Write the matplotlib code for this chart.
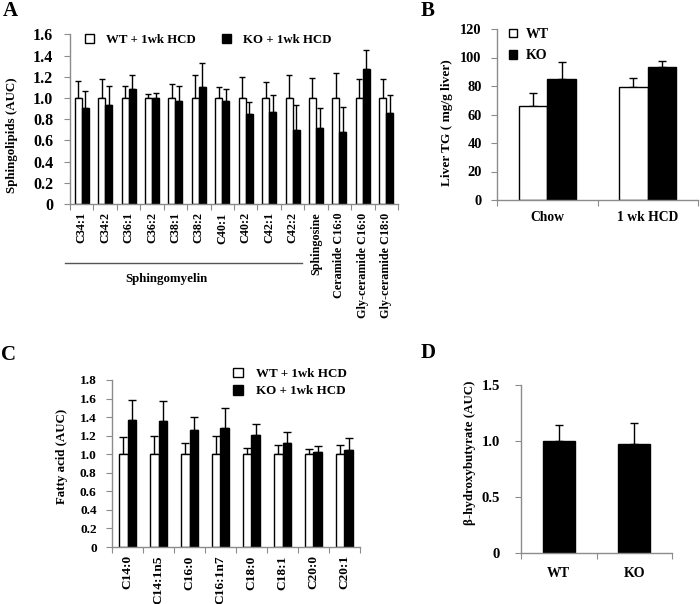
import numpy as np
import matplotlib
matplotlib.use("Agg")
import matplotlib.pyplot as plt

plt.rcParams['font.family'] = 'serif'
plt.rcParams['font.serif'] = ['Liberation Serif', 'DejaVu Serif']
plt.rcParams['font.weight'] = 'bold'

# panel A - sphingolipids
sphingo_labels = ['C34:1', 'C34:2', 'C36:1', 'C36:2', 'C38:1', 'C38:2', 'C40:1',
                  'C40:2', 'C42:1', 'C42:2', 'Sphingosine', 'Ceramide C16:0',
                  'Gly-ceramide C16:0', 'Gly-ceramide C18:0']
sphingo_wt = [1.0] * 14
sphingo_wt_err = [0.164, 0.18, 0.11, 0.038, 0.133, 0.215, 0.107, 0.196, 0.151,
                  0.215, 0.186, 0.233, 0.176, 0.18]
sphingo_ko = [0.905, 0.937, 1.085, 0.997, 0.968, 1.104, 0.972, 0.849, 0.868,
              0.70, 0.716, 0.676, 1.27, 0.855]
sphingo_ko_err = [0.158, 0.18, 0.133, 0.05, 0.142, 0.227, 0.11, 0.116, 0.157,
                  0.23, 0.189, 0.242, 0.18, 0.173]

# panel B - liver TG
tg_groups = ['Chow', '1 wk HCD']
tg_wt = [66.2, 79.5]
tg_wt_err = [8.7, 5.9]
tg_ko = [85.1, 93.5]
tg_ko_err = [11.5, 4.0]

# panel C - fatty acids
fa_labels = ['C14:0', 'C14:1n5', 'C16:0', 'C16:1n7', 'C18:0', 'C18:1', 'C20:0', 'C20:1']
fa_wt = [1.0] * 8
fa_wt_err = [0.19, 0.20, 0.118, 0.193, 0.071, 0.096, 0.054, 0.104]
fa_ko = [1.368, 1.354, 1.257, 1.282, 1.211, 1.125, 1.021, 1.046]
fa_ko_err = [0.214, 0.221, 0.139, 0.214, 0.114, 0.114, 0.068, 0.129]

# panel D - beta-hydroxybutyrate
bhb_groups = ['WT', 'KO']
bhb_vals = [1.0, 0.976]
bhb_err = [0.142, 0.182]

W, H = 700, 604
fig = plt.figure(figsize=(7, 6.04), dpi=100)


def px_axes(left, right, bottom, top):
    return fig.add_axes([left / W, 1 - bottom / H, (right - left) / W, (bottom - top) / H])


def style(ax, n, ylim, yticks, yticklabels, ysize, xlabels, xsize, rot, ypad, xpad):
    ax.set_xlim(-0.5, n - 0.5)
    ax.set_ylim(*ylim)
    for s in ['top', 'right']:
        ax.spines[s].set_visible(False)
    for s in ['left', 'bottom']:
        ax.spines[s].set_color('#8c8c8c')
        ax.spines[s].set_linewidth(1)
    ax.set_yticks(yticks)
    ax.set_yticklabels(yticklabels, fontsize=ysize, fontweight='bold')
    ax.tick_params(axis='y', length=4, color='#8c8c8c', pad=ypad)
    ax.set_xticks(np.arange(n + 1) - 0.5)
    ax.set_xticklabels([])
    ax.tick_params(axis='x', which='major', length=4, color='#8c8c8c')
    ax.set_xticks(np.arange(n), minor=True)
    ax.set_xticklabels(xlabels, minor=True, fontsize=xsize, fontweight='bold', rotation=rot,
                       va='top', ha='center')
    ax.tick_params(axis='x', which='minor', length=0, pad=xpad)


def pair_bars(ax, wt, wt_err, ko, ko_err, width, cap):
    x = np.arange(len(wt))
    b1 = ax.bar(x - width / 2, wt, width, color='white', edgecolor='black', linewidth=1, zorder=2)
    b2 = ax.bar(x + width / 2, ko, width, color='black', edgecolor='black', linewidth=1, zorder=2)
    ax.errorbar(x - width / 2, wt, yerr=[np.zeros(len(wt)), wt_err], fmt='none',
                ecolor='black', elinewidth=1, capsize=cap, capthick=1, zorder=1)
    ax.errorbar(x + width / 2, ko, yerr=[np.zeros(len(ko)), ko_err], fmt='none',
                ecolor='black', elinewidth=1, capsize=cap, capthick=1, zorder=1)
    return b1, b2


# ---- A
axA = px_axes(70, 398, 204, 34.4)
bA = pair_bars(axA, sphingo_wt, sphingo_wt_err, sphingo_ko, sphingo_ko_err, 0.3, 2.5)
style(axA, 14, (0, 1.6), np.arange(0, 1.61, 0.2),
      ['0'] + ['%.1f' % v for v in np.arange(0.2, 1.61, 0.2)], 11.5,
      sphingo_labels, 8.7, 90, 8, 6)
axA.legend(bA, ['WT + 1wk HCD', 'KO + 1wk HCD'], ncol=2, frameon=False,
           loc='center left', bbox_to_anchor=(0.025, 0.967), borderpad=0,
           handlelength=0.75, handleheight=0.75, handletextpad=0.9, columnspacing=2.0,
           prop={'size': 9.3, 'weight': 'bold'})
axA.plot([-0.7, 9.4], [-0.348, -0.348], color='#555555', lw=1,
         transform=axA.get_xaxis_transform(), clip_on=False)
axA.text(3.6, -0.44, 'Sphingomyelin', transform=axA.get_xaxis_transform(),
         ha='center', va='center', fontsize=9.3, fontweight='bold')
fig.text(12.5 / W, 1 - 135 / H, 'Sphingolipids (AUC)', rotation=90, ha='center', va='center',
         fontsize=9.4, fontweight='bold')

# ---- B
axB = px_axes(497, 698, 200, 29)
bB = pair_bars(axB, tg_wt, tg_wt_err, tg_ko, tg_ko_err, 0.285, 3)
style(axB, 2, (0, 120), np.arange(0, 121, 20), [str(v) for v in range(0, 121, 20)], 10.4,
      tg_groups, 9.8, 0, 7, 8)
axB.legend(bB, ['WT', 'KO'], frameon=False, loc='center left', bbox_to_anchor=(0.025, 0.906),
           borderpad=0, handlelength=0.6, handleheight=0.6, handletextpad=0.6,
           labelspacing=0.6, prop={'size': 10, 'weight': 'bold'})
fig.text(447 / W, 1 - 123 / H, 'Liver TG ( mg/g liver)', rotation=90, ha='center', va='center',
         fontsize=9.6, fontweight='bold')

# ---- C
axC = px_axes(112, 360, 547, 380)
bC = pair_bars(axC, fa_wt, fa_wt_err, fa_ko, fa_ko_err, 0.29, 3)
style(axC, 8, (0, 1.8), np.arange(0, 1.81, 0.2),
      ['0'] + ['%.1f' % v for v in np.arange(0.2, 1.81, 0.2)], 9.6,
      fa_labels, 9.6, 90, 7, 6)
axC.legend(bC, ['WT + 1wk HCD', 'KO + 1wk HCD'], frameon=False, loc='center left',
           bbox_to_anchor=(0.462, 0.985), borderpad=0, handlelength=0.75, handleheight=0.75,
           handletextpad=1.0, labelspacing=0.4, prop={'size': 9.4, 'weight': 'bold'})
fig.text(62 / W, 1 - 456 / H, 'Fatty acid (AUC)', rotation=90, ha='center', va='center',
         fontsize=9.3, fontweight='bold')

# ---- D
axD = px_axes(521, 672, 553.3, 385)
xd = np.arange(2)
axD.bar(xd, bhb_vals, 0.42, color='black', edgecolor='black', linewidth=1, zorder=2)
axD.errorbar(xd, bhb_vals, yerr=[np.zeros(2), bhb_err], fmt='none', ecolor='black',
             elinewidth=1, capsize=3, capthick=1, zorder=1)
style(axD, 2, (0, 1.5), [0, 0.5, 1.0, 1.5], ['0', '0.5', '1.0', '1.5'], 10.6,
      bhb_groups, 10, 0, 11, 10)
fig.text(470 / W, 1 - 453 / H, 'β-hydroxybutyrate (AUC)', rotation=90, ha='center',
         va='center', fontsize=9.4, fontweight='bold')

# panel letters
for lbl, (px, py) in {'A': (10.5, 11.5), 'B': (428, 11), 'C': (8.5, 355), 'D': (428, 353)}.items():
    fig.text(px / W, 1 - py / H, lbl, ha='center', va='center', fontsize=15, fontweight='bold')

fig.savefig('out.png', dpi=100)
